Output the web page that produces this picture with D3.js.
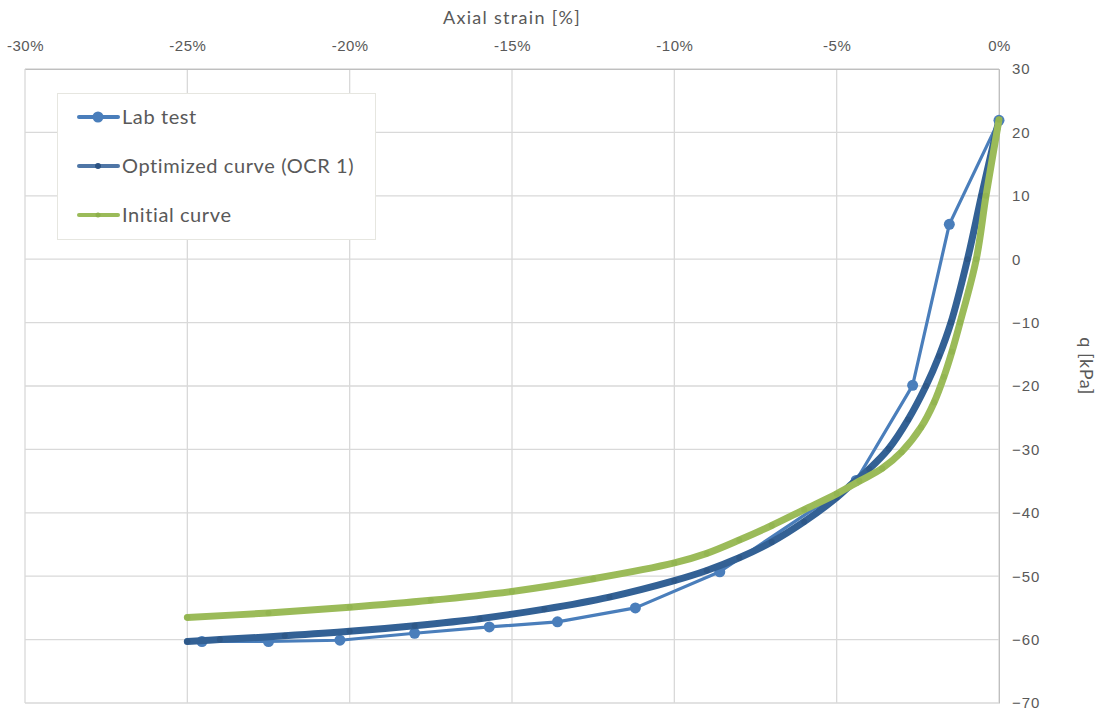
<!DOCTYPE html>
<html>
<head>
<meta charset="utf-8">
<script src="https://cdn.jsdelivr.net/npm/d3@7"></script>
<style>
  html, body { margin: 0; padding: 0; background: #fff; }
  svg { display: block; font-family: Lato, "Open Sans", sans-serif; }
</style>
</head>
<body>
<svg id="chart" width="1097" height="713"></svg>
<script>
// Axial strain [%] ticks and q [kPa] ticks
const strainTicks = [-30, -25, -20, -15, -10, -5, 0];
const qTicks = [30, 20, 10, 0, -10, -20, -30, -40, -50, -60, -70];

// Lab test measurements
const labStrain = [0, -1.53, -2.66, -4.4, -8.6, -11.2, -13.6, -15.7, -18.0, -20.3, -22.5, -24.55];
const labQ      = [21.9, 5.5, -19.9, -34.9, -49.3, -55.0, -57.2, -58.0, -59.0, -60.1, -60.3, -60.3];

// Optimized curve (OCR 1)
const optStrain = [-25, -24, -22, -20, -18, -16, -14, -12, -10, -9, -8, -7, -6, -5, -4.5, -4, -3.4, -2.8, -2.25, -1.85, -1.48, -0.97, -0.54, 0];
const optQ      = [-60.3, -60.0, -59.4, -58.7, -57.8, -56.7, -55.2, -53.3, -50.7, -49.1, -47.1, -44.6, -41.4, -37.6, -35.3, -33.1, -29.9, -25.3, -20.0, -15.3, -10.0, 0.0, 10.0, 22.0];

// Initial curve
const iniStrain = [-25, -22.5, -20, -17.5, -15, -12.5, -10, -9, -8, -7, -6, -5, -4.3, -3.6, -3.0, -2.4, -2.0, -1.7, -1.45, -1.2, -0.7, -0.4, 0];
const iniQ      = [-56.5, -55.8, -54.9, -53.8, -52.4, -50.4, -47.9, -46.4, -44.3, -42.0, -39.5, -37.0, -35.0, -33.0, -30.4, -26.5, -22.6, -18.6, -14.6, -10.0, 0.0, 10.0, 22.0];

const seriesNames = ["Lab test", "Optimized curve (OCR 1)", "Initial curve"];

const svg = d3.select("#chart");
const plotLeft = 25, plotRight = 999, plotTop = 69, plotBottom = 703;

const x = d3.scaleLinear().domain([-30, 0]).range([plotLeft, plotRight]);
const y = d3.scaleLinear().domain([-70, 30]).range([plotBottom, plotTop]);

const gridColor = "#D9D9D9";
const textColor = "#595959";

// gridlines
svg.append("g").selectAll("line").data(strainTicks).join("line")
  .attr("x1", d => x(d)).attr("x2", d => x(d))
  .attr("y1", plotTop).attr("y2", plotBottom)
  .attr("stroke", gridColor).attr("stroke-width", 1.3);
svg.append("g").selectAll("line").data(qTicks).join("line")
  .attr("x1", plotLeft).attr("x2", plotRight)
  .attr("y1", d => y(d)).attr("y2", d => y(d))
  .attr("stroke", gridColor).attr("stroke-width", 1.3);

// top axis (strain)
const xAxis = svg.append("g").attr("transform", `translate(0,${plotTop})`)
  .call(d3.axisTop(x).tickValues(strainTicks).tickFormat(d => d + "%").tickSize(0).tickPadding(18));
xAxis.select(".domain").attr("stroke", "#BFBFBF");
xAxis.selectAll("text").attr("fill", textColor).style("font-size", "15px").style("letter-spacing", "0.5px");

// right axis (q)
const yAxis = svg.append("g").attr("transform", `translate(${plotRight},0)`)
  .call(d3.axisRight(y).tickValues(qTicks).tickSize(0).tickPadding(13));
yAxis.select(".domain").attr("stroke", "#BFBFBF");
yAxis.selectAll("text").attr("fill", textColor).style("font-size", "15px").style("letter-spacing", "1px");

// axis titles
svg.append("text").attr("x", 512).attr("y", 24).attr("text-anchor", "middle")
  .attr("fill", textColor).style("font-size", "18px").style("letter-spacing", "1.3px").text("Axial strain [%]");
svg.append("text").attr("transform", `translate(1080,366) rotate(90)`).attr("text-anchor", "middle")
  .attr("fill", textColor).style("font-size", "18px").style("letter-spacing", "0.5px").text("q [kPa]");

const lab = labStrain.map((s, i) => ({ s, q: labQ[i] }));
const opt = optStrain.map((s, i) => ({ s, q: optQ[i] }));
const ini = iniStrain.map((s, i) => ({ s, q: iniQ[i] }));

const plot = svg.append("g");

// Lab test
plot.append("path").datum(lab)
  .attr("d", d3.line().x(d => x(d.s)).y(d => y(d.q)))
  .attr("fill", "none").attr("stroke", "#4A7EBB").attr("stroke-width", 3.2).attr("stroke-linejoin", "round");
plot.append("g").selectAll("circle").data(lab).join("circle")
  .attr("cx", d => x(d.s)).attr("cy", d => y(d.q)).attr("r", 5.5).attr("fill", "#4A7EBB");

// Optimized curve
plot.append("path").datum(opt)
  .attr("d", d3.line().curve(d3.curveCatmullRom).x(d => x(d.s)).y(d => y(d.q)))
  .attr("fill", "none").attr("stroke", "#336195").attr("stroke-width", 7).attr("stroke-linecap", "round");
plot.append("g").selectAll("circle").data(opt).join("circle")
  .attr("cx", d => x(d.s)).attr("cy", d => y(d.q)).attr("r", 3).attr("fill", "#2E5888");

// Initial curve
plot.append("path").datum(ini)
  .attr("d", d3.line().curve(d3.curveCatmullRom).x(d => x(d.s)).y(d => y(d.q)))
  .attr("fill", "none").attr("stroke", "#9BBB59").attr("stroke-width", 7).attr("stroke-linecap", "round");
plot.append("g").selectAll("circle").data(ini).join("circle")
  .attr("cx", d => x(d.s)).attr("cy", d => y(d.q)).attr("r", 3).attr("fill", "#93B551");

// legend
const legend = svg.append("g");
legend.append("rect").attr("x", 57.5).attr("y", 93.5).attr("width", 318).attr("height", 146)
  .attr("fill", "#fff").attr("stroke", "#E6E6E0").attr("stroke-width", 1);
const legendStyles = [
  { stroke: "#4A7EBB", width: 4, r: 5.5, dot: "#4A7EBB" },
  { stroke: "#4F76A6", width: 4, r: 3, dot: "#2B5283" },
  { stroke: "#9BBB59", width: 4, r: 2.5, dot: "#8DB04A" }
];
const rows = legend.selectAll("g.row").data(seriesNames).join("g")
  .attr("transform", (d, i) => `translate(0,${117 + i * 49})`);
rows.append("line").attr("x1", 79).attr("x2", 118).attr("y1", 0).attr("y2", 0)
  .attr("stroke", (d, i) => legendStyles[i].stroke).attr("stroke-width", (d, i) => legendStyles[i].width)
  .attr("stroke-linecap", "round");
rows.append("circle").attr("cx", 98).attr("cy", 0)
  .attr("r", (d, i) => legendStyles[i].r).attr("fill", (d, i) => legendStyles[i].dot);
rows.append("text").attr("x", 122).attr("y", 0).attr("dy", "0.35em")
  .attr("fill", textColor).style("font-size", "20px").style("letter-spacing", "0.6px").text(d => d);
</script>
</body>
</html>
